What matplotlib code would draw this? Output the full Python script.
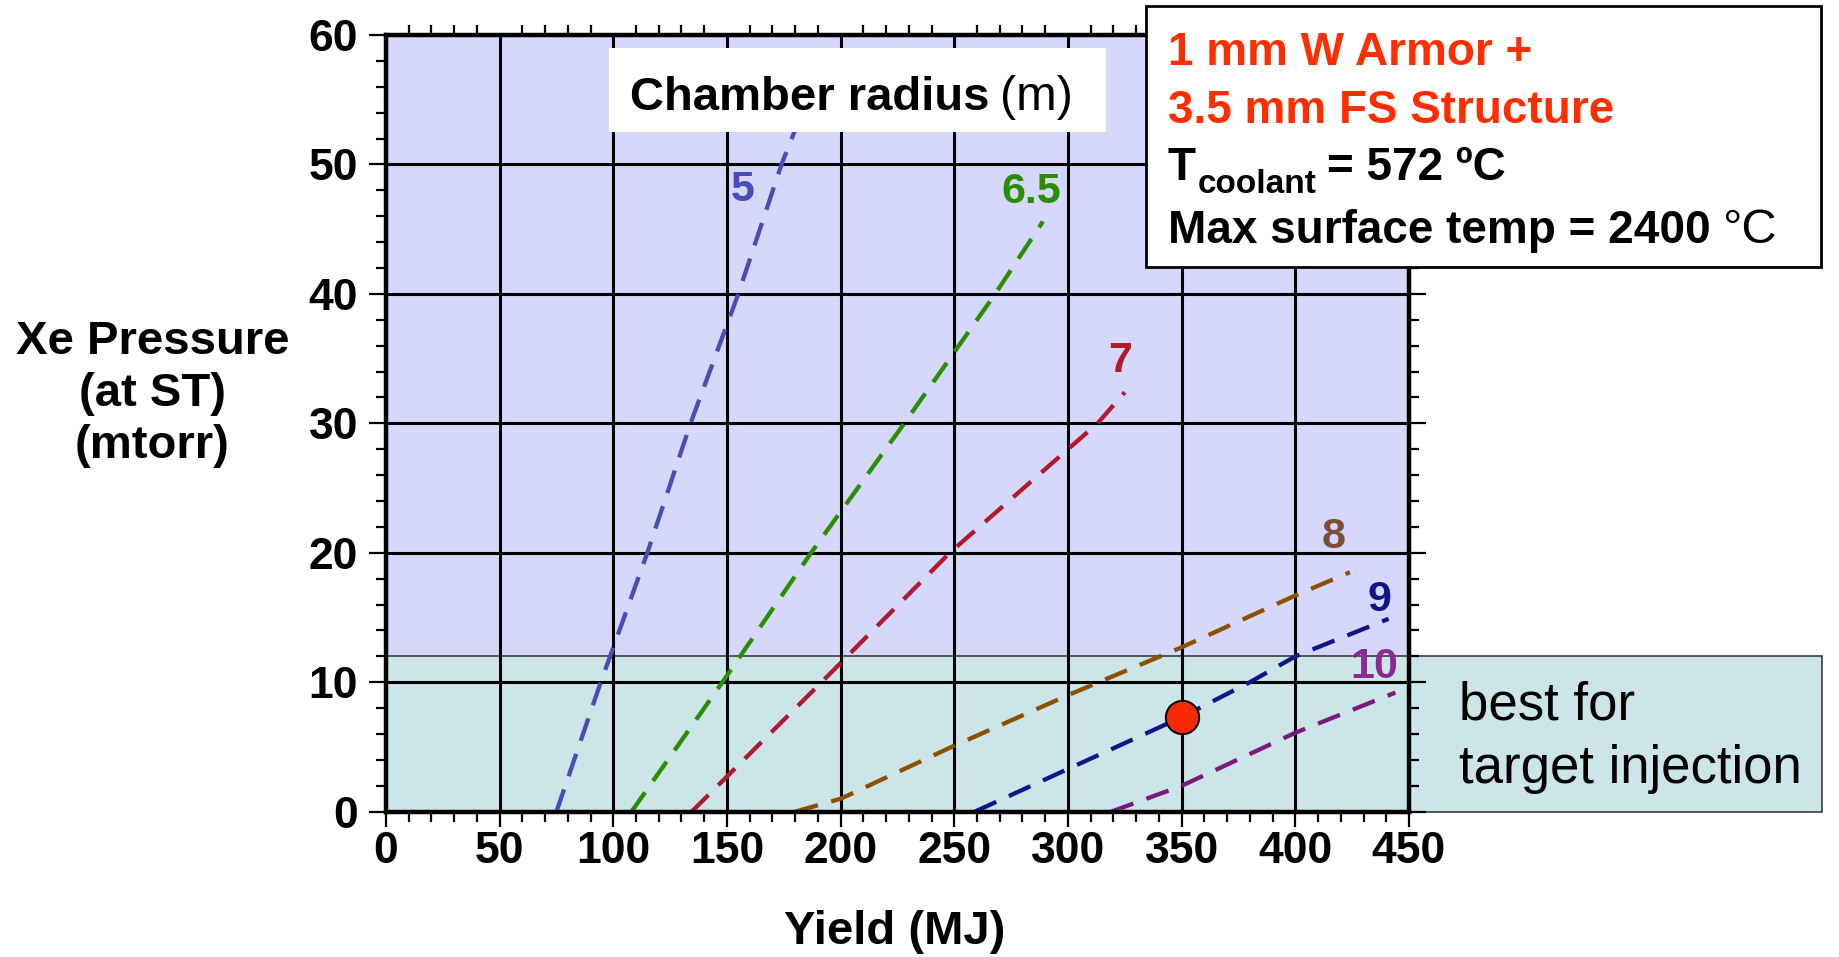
import matplotlib
matplotlib.use('Agg')
import matplotlib.pyplot as plt
from matplotlib.patches import Rectangle
from matplotlib.ticker import MultipleLocator

plt.rcParams['font.family'] = ['Liberation Sans', 'DejaVu Sans']
plt.rcParams['lines.scale_dashes'] = False

# chamber radius curves (yield MJ vs Xe pressure mtorr)
radii = ['5', '6.5', '7', '8', '9', '10']
yield_r5 = [75, 94.5, 115, 134, 155, 174, 183]
pres_r5 = [0, 10, 20, 30, 40, 50, 54]
yield_r65 = [108, 148, 187, 228, 268, 289]
pres_r65 = [0, 10, 20, 30, 40, 45.6]
yield_r7 = [134.5, 191.6, 248, 313, 325]
pres_r7 = [0, 10, 20, 30, 32.4]
yield_r8 = [180, 200, 250, 300, 350, 400, 424]
pres_r8 = [0, 1.0, 5.1, 9.0, 12.7, 16.7, 18.5]
yield_r9 = [259, 300, 350, 380, 400, 441]
pres_r9 = [0, 3.3, 7.3, 10, 12.0, 14.9]
yield_r10 = [319, 350, 400, 444]
pres_r10 = [0, 2.0, 6.1, 9.2]

label_yield = [157, 284, 323, 417, 437, 434.5]
label_pres = [48, 47.9, 34.8, 21.2, 16.35, 11.2]

best_yield = 350
best_pres = 7.3
injection_limit = 12

line_colors = ['#4A4DB3', '#2A8E00', '#B3192E', '#8B5000', '#131587', '#7B1A7D']
label_colors = ['#4A4DB3', '#2A8E00', '#B3192E', '#7A5036', '#131587', '#8E2895']

curves = [(yield_r5, pres_r5), (yield_r65, pres_r65), (yield_r7, pres_r7),
          (yield_r8, pres_r8), (yield_r9, pres_r9), (yield_r10, pres_r10)]

W, H = 1839, 957
fig = plt.figure(figsize=(W / 100, H / 100), dpi=100)
ax = fig.add_axes([385.9 / W, 1 - 811.7 / H, (1409 - 385.9) / W, (811.7 - 35) / H])

ax.set_xlim(0, 450)
ax.set_ylim(0, 60)
ax.set_facecolor('#D5D7FB')
ax.set_axisbelow(True)
ax.grid(True, which='major', color='black', lw=2.2)

# "best for target injection" band, runs out past the right spine
ax.add_patch(Rectangle((0, 0), 631.5, injection_limit, facecolor='#CBE5E8',
                       edgecolor='#3c3c3c', lw=1.2, zorder=0.3, clip_on=False))

for (xs, ps), c in zip(curves, line_colors):
    ax.plot(xs, ps, color=c, lw=3.1, dashes=(17, 10), zorder=2)

for r, x, y, c in zip(radii, label_yield, label_pres, label_colors):
    ax.text(x, y, r, color=c, fontsize=31, fontweight='bold',
            ha='center', va='center', zorder=3)

ax.plot(best_yield, best_pres, 'o', ms=24, mfc='#F52A05', mec='black',
        mew=1.4, zorder=4, clip_on=False)

ax.xaxis.set_major_locator(MultipleLocator(50))
ax.xaxis.set_minor_locator(MultipleLocator(10))
ax.yaxis.set_major_locator(MultipleLocator(10))
ax.yaxis.set_minor_locator(MultipleLocator(2))
ax.tick_params(which='both', direction='out', top=True, right=True, width=1.6)
ax.tick_params(which='major', length=11)
ax.tick_params(which='minor', length=7)
ax.tick_params(axis='y', which='major', right=True, length=12)
ax.tick_params(axis='x', which='major', top=False, pad=3, labelsize=32)
ax.tick_params(axis='y', pad=8, labelsize=32)
for lab in ax.get_xticklabels() + ax.get_yticklabels():
    lab.set_fontweight('bold')
for s in ax.spines.values():
    s.set_linewidth(3.2)


def fx(px):
    return px / W


def fy(py):
    return 1 - py / H


# axis titles
fig.text(fx(152.5), fy(394), 'Xe Pressure\n(at ST)\n(mtorr)', ha='center', va='center',
         multialignment='center', fontsize=34, fontweight='bold', linespacing=1.23)
fig.text(fx(895), fy(932), 'Yield (MJ)', ha='center', va='center',
         fontsize=34, fontweight='bold')

# white label box inside the plot
fig.patches.append(Rectangle((fx(608.8), fy(131.7)), (1106.2 - 608.8) / W, (131.7 - 48.3) / H,
                             transform=fig.transFigure, facecolor='white',
                             edgecolor='none', zorder=1))
t_ch = fig.text(fx(630), fy(110), 'Chamber radius', fontsize=34, fontweight='bold',
                va='baseline', zorder=2)

# info box top right
fig.patches.append(Rectangle((fx(1145.5), fy(266.7)), (1821 - 1145.5) / W, (266.7 - 6) / H,
                             transform=fig.transFigure, facecolor='white',
                             edgecolor='black', lw=2, zorder=1))
fig.text(fx(1167.7), fy(65), '1 mm W Armor +', color='#FF2D00', fontsize=33,
         fontweight='bold', va='baseline', zorder=2)
fig.text(fx(1167.7), fy(123.3), '3.5 mm FS Structure', color='#FF2D00', fontsize=33,
         fontweight='bold', va='baseline', zorder=2)
t_T = fig.text(fx(1167.7), fy(180), 'T', fontsize=33, fontweight='bold',
               va='baseline', zorder=2)
t_max = fig.text(fx(1167.7), fy(243.3), 'Max surface temp = 2400', fontsize=33,
                 fontweight='bold', va='baseline', zorder=2)

# best-for box text
fig.text(fx(1459), fy(720), 'best for', fontsize=38, va='baseline')
fig.text(fx(1459), fy(783.3), 'target injection', fontsize=38, va='baseline')

# pieces that follow other text
fig.canvas.draw()
rend = fig.canvas.get_renderer()


def right_of(t, gap):
    return (t.get_window_extent(rend).x1 + gap) / W


fig.text(right_of(t_ch, 10), fy(110), '(m)', fontsize=35, va='baseline', zorder=2)
t_sub = fig.text(right_of(t_T, 2), fy(193.3), 'coolant', fontsize=24, fontweight='bold',
                 va='baseline', zorder=2)
fig.text(right_of(t_sub, 10), fy(180), '= 572 ºC', fontsize=33, fontweight='bold',
         va='baseline', zorder=2)
fig.text(right_of(t_max, 12), fy(243.3), '°C', fontsize=35, va='baseline', zorder=2)

fig.savefig('out.png', dpi=100)
